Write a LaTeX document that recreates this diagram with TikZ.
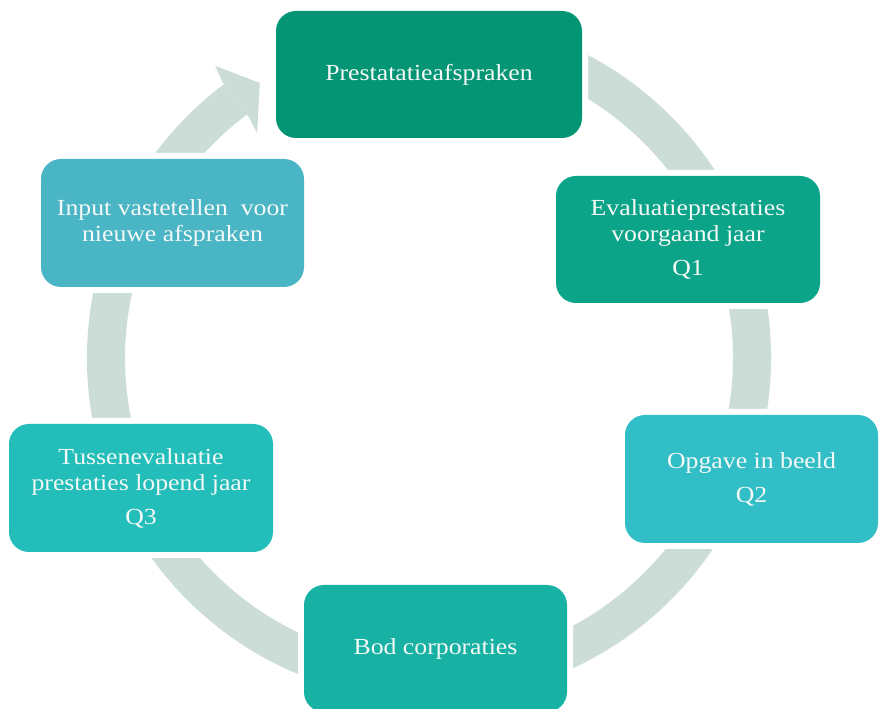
\documentclass[tikz,border=0pt]{standalone}
\usepackage{fontspec}
\setmainfont{Liberation Serif}[FakeStretch=1.12]
\usetikzlibrary{calc}
\definecolor{ringc}{HTML}{CCDDD8}
\definecolor{cA}{HTML}{049674}
\definecolor{cB}{HTML}{0CA489}
\definecolor{cC}{HTML}{31BEC7}
\definecolor{cD}{HTML}{18B2A5}
\definecolor{cE}{HTML}{23BDBA}
\definecolor{cF}{HTML}{4AB5C5}
\definecolor{txt}{HTML}{F4F8F6}
\begin{document}
\begin{tikzpicture}[x=1pt,y=1pt,
  stepbox/.style={rectangle, rounded corners=20pt, inner sep=0pt,
    text=txt, align=center, font=\fontsize{23}{26}\selectfont,
    preaction={draw=white, line width=12pt}}]
\useasboundingbox (0,0) rectangle (879,709);
\clip (0,0) rectangle (879,709);
\fill[white] (0,0) rectangle (879,709);
\coordinate (c) at (429,351);
% ring shaft
\fill[ringc] ($(c)+(80:342)$) arc[start angle=80, end angle=-233.2, radius=342]
  -- ($(c)+(-233.2:304)$) arc[start angle=-233.2, end angle=80, radius=304] -- cycle;
% arrow head
\fill[ringc] ($(c)+(126.2:362)$) -- ($(c)+(121.6:323)$) -- ($(c)+(127.4:283)$) -- ($(c)+(126.8:300)$) -- ($(c)+(126.8:345)$) -- cycle;
% boxes
\node[stepbox, fill=cA, minimum width=306pt, minimum height=127pt] (p1) at (429,634.5) {Prestatatieafspraken};
\node[stepbox, fill=cB, minimum width=264pt, minimum height=127pt] (p2) at (688,469.5) {Evaluatieprestaties\\voorgaand jaar\\[8pt]Q1};
\node[stepbox, fill=cC, minimum width=253pt, minimum height=128pt] (p3) at (751.5,230) {Opgave in beeld\\[8pt]Q2};
\node[stepbox, fill=cD, minimum width=263pt, minimum height=127pt] (p4) at (435.5,60.5) {Bod corporaties};
\node[stepbox, fill=cE, minimum width=264pt, minimum height=128pt] (p5) at (141,221) {Tussenevaluatie\\prestaties lopend jaar\\[8pt]Q3};
\node[stepbox, fill=cF, minimum width=263pt, minimum height=128pt] (p6) at (172.5,486) {Input vastetellen~ voor\\nieuwe afspraken};
\end{tikzpicture}
\end{document}
